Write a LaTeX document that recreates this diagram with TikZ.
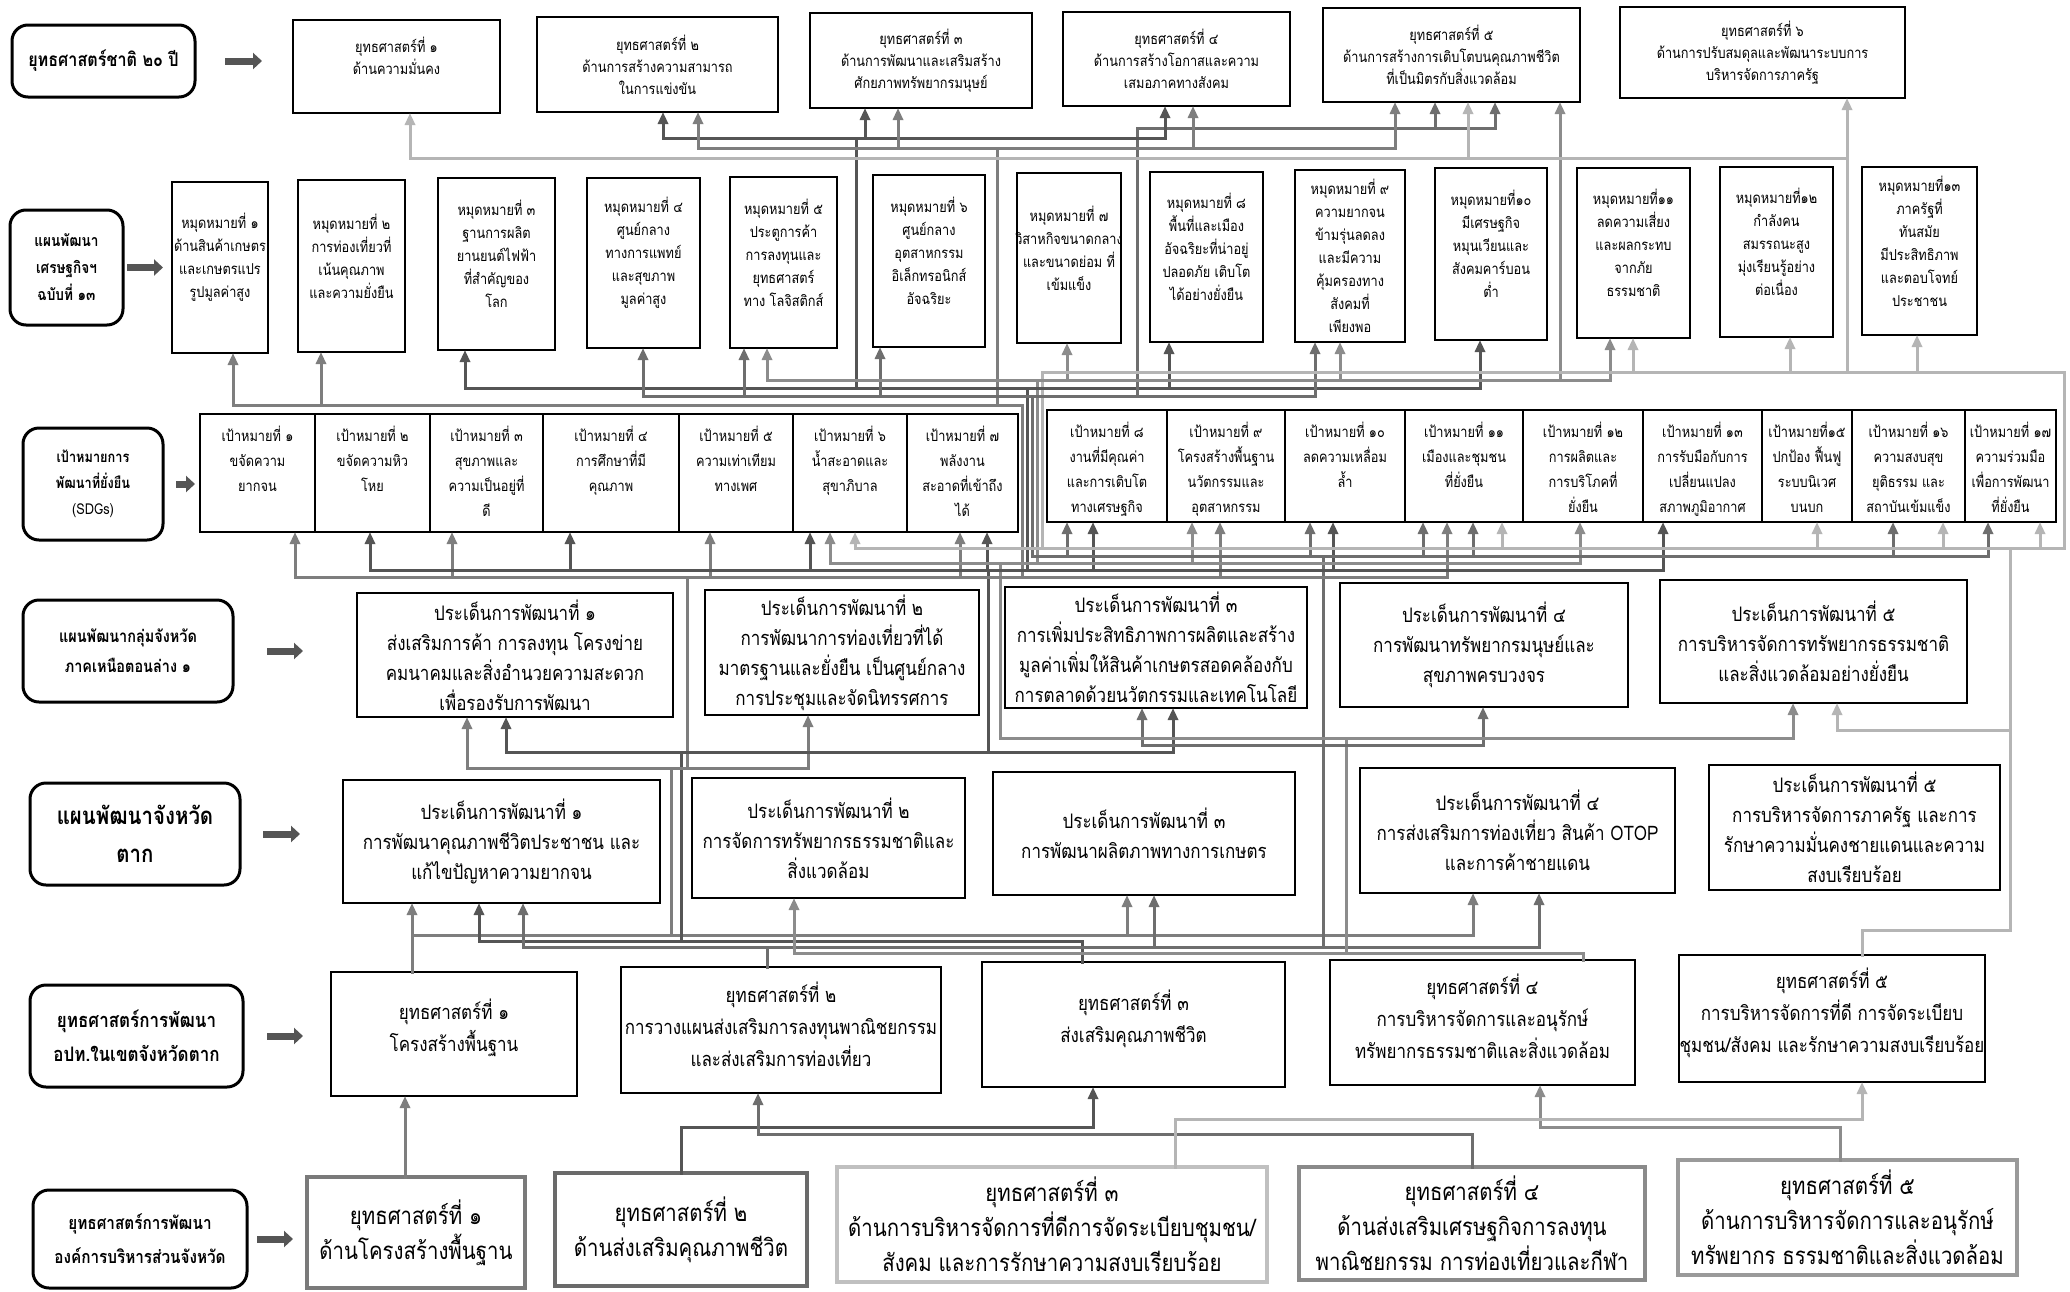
\documentclass[tikz,border=0pt]{standalone}
\usepackage{fontspec}
\setmainfont{Loma}[Script=Thai,FakeStretch=0.85]
\usetikzlibrary{arrows.meta}
\definecolor{cA}{HTML}{555555}
\definecolor{cB}{HTML}{6E6E6E}
\definecolor{cC}{HTML}{7E7E7E}
\definecolor{cD}{HTML}{8C8C8C}
\definecolor{cE}{HTML}{B5B5B5}
\definecolor{arrowgray}{HTML}{555555}
\definecolor{bA}{HTML}{7A7A7A}
\definecolor{bB}{HTML}{6A6A6A}
\definecolor{bC}{HTML}{C0C0C0}
\definecolor{bD}{HTML}{8A8A8A}
\definecolor{bE}{HTML}{9A9A9A}
\newcommand\tbox[9]{%
  \node[#1, minimum width={(#5-#3)*1pt}, minimum height={(#6-#4)*1pt}] (#2) at ({(#3+#5)/2},{(#4+#6)/2}) {};
  \node[#7] (#2t) at (#2.#8) {#9};}
\tikzset{
  box/.style={draw=black, line width=1.6pt, inner sep=0pt, outer sep=0pt},
  bbox/.style={draw=#1, line width=4pt, inner sep=0pt, outer sep=0pt},
  lab/.style={draw=black, line width=3pt, rounded corners=16pt, inner sep=0pt, outer sep=0pt},
  lt/.style n args={2}{align=center, inner sep=0pt, font=\bfseries\fontsize{#1}{#2}\selectfont},
  tx/.style n args={2}{align=center, inner sep=0pt, font=\fontsize{#1}{#2}\selectfont},
  t1/.style={tx={15}{22}},
  t2/.style={tx={15}{23}, yshift=10pt},
  t3/.style={tx={15}{25}, anchor=north, yshift=-12pt},
  t4/.style={tx={20}{30}},
  t6/.style={tx={20}{32}, yshift=6pt},
  t7/.style={tx={24}{35}},
  ln/.style={line width=3pt, line cap=rect, line join=miter},
  arr/.style={-{Triangle[length=12pt,width=10pt]}},
  bigarr/.style={draw=arrowgray, line width=7pt, -{Triangle[length=9pt,width=16pt]}}
}
\begin{document}
\begin{tikzpicture}[x=1pt,y=-1pt]
\fill[white] (0,0) rectangle (2070,1291);
\useasboundingbox (0,0) rectangle (2070,1291);

% ---------- labels ----------
\tbox{lab}{L1}{12}{25}{195}{97}{lt={19}{24}}{center}{ยุทธศาสตร์ชาติ ๒๐ ปี}
\tbox{lab}{L2}{10}{210}{123}{325}{lt={16}{27}}{center}{แผนพัฒนา\\เศรษฐกิจฯ\\ฉบับที่ ๑๓}
\tbox{lab}{L3}{23}{428}{163}{540}{lt={15}{26}}{center}{เป้าหมายการ\\พัฒนาที่ยั่งยืน\\{\mdseries (SDGs)}}
\tbox{lab}{L4}{23}{600}{233}{702}{lt={17}{30}}{center}{แผนพัฒนากลุ่มจังหวัด\\ภาคเหนือตอนล่าง ๑}
\tbox{lab}{L5}{30}{783}{240}{885}{lt={24}{38}}{center}{แผนพัฒนาจังหวัด\\ตาก}
\tbox{lab}{L6}{30}{985}{243}{1087}{lt={20}{34}}{center}{ยุทธศาสตร์การพัฒนา\\อปท.ในเขตจังหวัดตาก}
\tbox{lab}{L7}{33}{1190}{247}{1288}{lt={18}{34}}{center}{ยุทธศาสตร์การพัฒนา\\องค์การบริหารส่วนจังหวัด}

\draw[bigarr] (225,0 |- L1) -- (262,0 |- L1);
\draw[bigarr] (127,0 |- L2) -- (163,0 |- L2);
\draw[bigarr] (176,0 |- L3) -- (195,0 |- L3);
\draw[bigarr] (267,0 |- L4) -- (303,0 |- L4);
\draw[bigarr] (263,0 |- L5) -- (300,0 |- L5);
\draw[bigarr] (267,0 |- L6) -- (303,0 |- L6);
\draw[bigarr] (257,0 |- L7) -- (293,0 |- L7);

% ---------- row 1 ----------
\tbox{box}{S1}{293}{20}{500}{113}{t1}{center}{ยุทธศาสตร์ที่ ๑\\ด้านความมั่นคง\\\mbox{}}
\tbox{box}{S2}{537}{17}{778}{112}{t1}{center}{ยุทธศาสตร์ที่ ๒\\ด้านการสร้างความสามารถ\\ในการแข่งขัน}
\tbox{box}{S3}{810}{13}{1032}{108}{t1}{center}{ยุทธศาสตร์ที่ ๓\\ด้านการพัฒนาและเสริมสร้าง\\ศักยภาพทรัพยากรมนุษย์}
\tbox{box}{S4}{1063}{12}{1290}{106}{t1}{center}{ยุทธศาสตร์ที่ ๔\\ด้านการสร้างโอกาสและความ\\เสมอภาคทางสังคม}
\tbox{box}{S5}{1323}{8}{1580}{102}{t1}{center}{ยุทธศาสตร์ที่ ๕\\ด้านการสร้างการเติบโตบนคุณภาพชีวิต\\ที่เป็นมิตรกับสิ่งแวดล้อม}
\tbox{box}{S6}{1620}{7}{1905}{98}{t1}{center}{ยุทธศาสตร์ที่ ๖\\ด้านการปรับสมดุลและพัฒนาระบบการ\\บริหารจัดการภาครัฐ}

% ---------- row 2 ----------
\tbox{box}{G1}{172}{182}{268}{353}{t2}{center}{หมุดหมายที่ ๑\\ด้านสินค้าเกษตร\\และเกษตรแปร\\รูปมูลค่าสูง}
\tbox{box}{G2}{298}{180}{405}{352}{t2}{center}{หมุดหมายที่ ๒\\การท่องเที่ยวที่\\เน้นคุณภาพ\\และความยั่งยืน}
\tbox{box}{G3}{438}{178}{555}{350}{t2}{center}{หมุดหมายที่ ๓\\ฐานการผลิต\\ยานยนต์ไฟฟ้า\\ที่สำคัญของ\\โลก}
\tbox{box}{G4}{587}{178}{700}{348}{t2}{center}{หมุดหมายที่ ๔\\ศูนย์กลาง\\ทางการแพทย์\\และสุขภาพ\\มูลค่าสูง}
\tbox{box}{G5}{730}{177}{837}{348}{t2}{center}{หมุดหมายที่ ๕\\ประตูการค้า\\การลงทุนและ\\ยุทธศาสตร์\\ทาง โลจิสติกส์}
\tbox{box}{G6}{873}{175}{985}{347}{t2}{center}{หมุดหมายที่ ๖\\ศูนย์กลาง\\อุตสาหกรรม\\อิเล็กทรอนิกส์\\อัจฉริยะ}
\tbox{box}{G7}{1017}{173}{1121}{343}{t2}{center}{หมุดหมายที่ ๗\\วิสาหกิจขนาดกลาง\\และขนาดย่อม ที่\\เข้มแข็ง}
\tbox{box}{G8}{1150}{172}{1263}{342}{t2}{center}{หมุดหมายที่ ๘\\พื้นที่และเมือง\\อัจฉริยะที่น่าอยู่\\ปลอดภัย เติบโต\\ได้อย่างยั่งยืน}
\tbox{box}{G9}{1295}{170}{1405}{342}{tx={15}{23}}{center}{หมุดหมายที่ ๙\\ความยากจน\\ข้ามรุ่นลดลง\\และมีความ\\คุ้มครองทาง\\สังคมที่\\เพียงพอ}
\tbox{box}{G10}{1435}{168}{1547}{340}{t2}{center}{หมุดหมายที่๑๐\\มีเศรษฐกิจ\\หมุนเวียนและ\\สังคมคาร์บอน\\ต่ำ}
\tbox{box}{G11}{1577}{168}{1690}{338}{t2}{center}{หมุดหมายที่๑๑\\ลดความเสี่ยง\\และผลกระทบ\\จากภัย\\ธรรมชาติ}
\tbox{box}{G12}{1720}{167}{1833}{337}{t2}{center}{หมุดหมายที่๑๒\\กำลังคน\\สมรรถนะสูง\\มุ่งเรียนรู้อย่าง\\ต่อเนื่อง}
\tbox{box}{G13}{1862}{167}{1977}{335}{t2}{center}{หมุดหมายที่๑๓\\ภาครัฐที่\\ทันสมัย\\มีประสิทธิภาพ\\และตอบโจทย์\\ประชาชน}

% ---------- row 3 (SDGs) ----------
\tbox{box}{D1}{200}{414}{315}{532}{t3}{north}{เป้าหมายที่ ๑\\ขจัดความ\\ยากจน}
\tbox{box}{D2}{315}{414}{430}{532}{t3}{north}{เป้าหมายที่ ๒\\ขจัดความหิว\\โหย}
\tbox{box}{D3}{430}{414}{543}{532}{t3}{north}{เป้าหมายที่ ๓\\สุขภาพและ\\ความเป็นอยู่ที่\\ดี}
\tbox{box}{D4}{543}{414}{679}{532}{t3}{north}{เป้าหมายที่ ๔\\การศึกษาที่มี\\คุณภาพ}
\tbox{box}{D5}{679}{414}{793}{532}{t3}{north}{เป้าหมายที่ ๕\\ความเท่าเทียม\\ทางเพศ}
\tbox{box}{D6}{793}{414}{907}{532}{t3}{north}{เป้าหมายที่ ๖\\น้ำสะอาดและ\\สุขาภิบาล}
\tbox{box}{D7}{907}{414}{1018}{532}{t3}{north}{เป้าหมายที่ ๗\\พลังงาน\\สะอาดที่เข้าถึง\\ได้}
\tbox{box}{D8}{1047}{410}{1167}{522}{t3}{north}{เป้าหมายที่ ๘\\งานที่มีคุณค่า\\และการเติบโต\\ทางเศรษฐกิจ}
\tbox{box}{D9}{1167}{410}{1285}{522}{t3}{north}{เป้าหมายที่ ๙\\โครงสร้างพื้นฐาน\\นวัตกรรมและ\\อุตสาหกรรม}
\tbox{box}{D10}{1285}{410}{1405}{522}{t3}{north}{เป้าหมายที่ ๑๐\\ลดความเหลื่อม\\ล้ำ}
\tbox{box}{D11}{1405}{410}{1523}{522}{t3}{north}{เป้าหมายที่ ๑๑\\เมืองและชุมชน\\ที่ยั่งยืน}
\tbox{box}{D12}{1523}{410}{1643}{522}{t3}{north}{เป้าหมายที่ ๑๒\\การผลิตและ\\การบริโภคที่\\ยั่งยืน}
\tbox{box}{D13}{1643}{410}{1762}{522}{t3}{north}{เป้าหมายที่ ๑๓\\การรับมือกับการ\\เปลี่ยนแปลง\\สภาพภูมิอากาศ}
\tbox{box}{D15}{1762}{410}{1852}{522}{t3}{north}{เป้าหมายที่๑๕\\ปกป้อง ฟื้นฟู\\ระบบนิเวศ\\บนบก}
\tbox{box}{D16}{1852}{410}{1965}{522}{t3}{north}{เป้าหมายที่ ๑๖\\ความสงบสุข\\ยุติธรรม และ\\สถาบันเข้มแข็ง}
\tbox{box}{D17}{1965}{410}{2056}{522}{t3}{north}{เป้าหมายที่ ๑๗\\ความร่วมมือ\\เพื่อการพัฒนา\\ที่ยั่งยืน}

% ---------- row 4 ----------
\tbox{box}{P1}{357}{593}{673}{717}{t4}{center}{ประเด็นการพัฒนาที่ ๑\\ส่งเสริมการค้า การลงทุน โครงข่าย\\คมนาคมและสิ่งอำนวยความสะดวก\\เพื่อรองรับการพัฒนา}
\tbox{box}{P2}{705}{590}{979}{715}{t4}{center}{ประเด็นการพัฒนาที่ ๒\\การพัฒนาการท่องเที่ยวที่ได้\\มาตรฐานและยั่งยืน เป็นศูนย์กลาง\\การประชุมและจัดนิทรรศการ}
\tbox{box}{P3}{1005}{587}{1307}{708}{t4}{center}{ประเด็นการพัฒนาที่ ๓\\การเพิ่มประสิทธิภาพการผลิตและสร้าง\\มูลค่าเพิ่มให้สินค้าเกษตรสอดคล้องกับ\\การตลาดด้วยนวัตกรรมและเทคโนโลยี}
\tbox{box}{P4}{1340}{583}{1628}{707}{t4}{center}{ประเด็นการพัฒนาที่ ๔\\การพัฒนาทรัพยากรมนุษย์และ\\สุขภาพครบวงจร}
\tbox{box}{P5}{1660}{580}{1967}{703}{t4}{center}{ประเด็นการพัฒนาที่ ๕\\การบริหารจัดการทรัพยากรธรรมชาติ\\และสิ่งแวดล้อมอย่างยั่งยืน}

% ---------- row 5 ----------
\tbox{box}{T1}{343}{780}{660}{903}{t4}{center}{ประเด็นการพัฒนาที่ ๑\\การพัฒนาคุณภาพชีวิตประชาชน และ\\แก้ไขปัญหาความยากจน}
\tbox{box}{T2}{692}{778}{965}{898}{t4}{center}{ประเด็นการพัฒนาที่ ๒\\การจัดการทรัพยากรธรรมชาติและ\\สิ่งแวดล้อม}
\tbox{box}{T3}{993}{772}{1295}{895}{t4}{center}{ประเด็นการพัฒนาที่ ๓\\การพัฒนาผลิตภาพทางการเกษตร}
\tbox{box}{T4}{1360}{768}{1675}{893}{t4}{center}{ประเด็นการพัฒนาที่ ๔\\การส่งเสริมการท่องเที่ยว สินค้า OTOP\\และการค้าชายแดน}
\tbox{box}{T5}{1709}{765}{2000}{890}{t4}{center}{ประเด็นการพัฒนาที่ ๕\\การบริหารจัดการภาครัฐ และการ\\รักษาความมั่นคงชายแดนและความ\\สงบเรียบร้อย}

% ---------- row 6 ----------
\tbox{box}{A1}{331}{972}{577}{1096}{t6}{center}{ยุทธศาสตร์ที่ ๑\\โครงสร้างพื้นฐาน}
\tbox{box}{A2}{621}{967}{941}{1093}{t6}{center}{ยุทธศาสตร์ที่ ๒\\การวางแผนส่งเสริมการลงทุนพาณิชยกรรม\\และส่งเสริมการท่องเที่ยว}
\tbox{box}{A3}{982}{962}{1285}{1087}{t6}{center}{ยุทธศาสตร์ที่ ๓\\ส่งเสริมคุณภาพชีวิต}
\tbox{box}{A4}{1330}{960}{1635}{1085}{t6}{center}{ยุทธศาสตร์ที่ ๔\\การบริหารจัดการและอนุรักษ์\\ทรัพยากรธรรมชาติและสิ่งแวดล้อม}
\tbox{box}{A5}{1679}{955}{1985}{1082}{t6}{center}{ยุทธศาสตร์ที่ ๕\\การบริหารจัดการที่ดี การจัดระเบียบ\\ชุมชน/สังคม และรักษาความสงบเรียบร้อย}

% ---------- row 7 ----------
\tbox{bbox=bA}{B1}{307}{1177}{525}{1288}{t7}{center}{ยุทธศาสตร์ที่ ๑\\ด้านโครงสร้างพื้นฐาน}
\tbox{bbox=bB}{B2}{555}{1173}{807}{1286}{t7}{center}{ยุทธศาสตร์ที่ ๒\\ด้านส่งเสริมคุณภาพชีวิต}
\tbox{bbox=bC}{B3}{837}{1167}{1267}{1282}{t7}{center}{ยุทธศาสตร์ที่ ๓\\ด้านการบริหารจัดการที่ดีการจัดระเบียบชุมชน/\\สังคม และการรักษาความสงบเรียบร้อย}
\tbox{bbox=bD}{B4}{1299}{1167}{1645}{1280}{t7}{center}{ยุทธศาสตร์ที่ ๔\\ด้านส่งเสริมเศรษฐกิจการลงทุน\\พาณิชยกรรม การท่องเที่ยวและกีฬา}
\tbox{bbox=bE}{B5}{1678}{1160}{2017}{1275}{t7}{center}{ยุทธศาสตร์ที่ ๕\\ด้านการบริหารจัดการและอนุรักษ์\\ทรัพยากร ธรรมชาติและสิ่งแวดล้อม}

% ================= connectors =================
% row 7 -> row 6
\draw[ln,cC,arr] (405,0 |- B1.north) -- (405,0 |- A1.south);
\draw[ln,cA,arr] (681,0 |- B2.north) |- (1093,1127) -- (1093,0 |- A3.south);
\draw[ln,cB,arr] (1472,0 |- B4.north) |- (758,1134) -- (758,0 |- A2.south);
\draw[ln,cD,arr] (1840,0 |- B5.north) |- (1540,1127) -- (1540,0 |- A4.south);
\draw[ln,cE,arr] (1175,0 |- B3.north) |- (1862,1119) -- (1862,0 |- A5.south);

% row 6 -> row 5
\draw[ln,cC,arr] (412,0 |- A1.north) -- (412,0 |- T1.south);
\draw[ln,cC] (412,935) -- (1473,935);
\foreach \x/\n in {1127/T3,1473/T4} \draw[ln,cC,arr] (\x,935) -- (\x,0 |- \n.south);
\draw[ln,cC] (671,935) -- (671,768);

\draw[ln,cA] (1082,0 |- A3.north) |- (479,941);
\draw[ln,cA,arr] (479,941) -- (479,0 |- T1.south);
\draw[ln,cA] (681,941) -- (681,752);

\draw[ln,cB] (767,0 |- A2.north) -- (767,947);
\draw[ln,cB] (523,947) -- (1539,947);
\foreach \x/\n in {523/T1,1154/T3,1539/T4} \draw[ln,cB,arr] (\x,947) -- (\x,0 |- \n.south);
\draw[ln,cB] (1323,947) -- (1323,556);

\draw[ln,cD] (1583,0 |- A4.north) |- (794,953);
\draw[ln,cD,arr] (794,953) -- (794,0 |- T2.south);
\draw[ln,cD] (1346,953) -- (1346,738);

\draw[ln,cE] (1862,0 |- A5.north) |- (2010,930) -- (2010,548);

% row 5 -> row 4
\draw[ln,cC] (467,768) -- (808,768);
\foreach \x/\n in {467/P1,808/P2} \draw[ln,cC,arr] (\x,768) -- (\x,0 |- \n.south);
\draw[ln,cC] (687,768) -- (687,577);

\draw[ln,cA] (506,752) -- (1173,752);
\foreach \x/\n in {506/P1,1173/P3} \draw[ln,cA,arr] (\x,752) -- (\x,0 |- \n.south);
\draw[ln,cA] (988,752) -- (988,570);

\draw[ln,cB] (1142,745) -- (1483,745);
\foreach \x/\n in {1142/P3,1483/P4} \draw[ln,cB,arr] (\x,745) -- (\x,0 |- \n.south);

\draw[ln,cD] (1000,738) -- (1793,738);
\draw[ln,cD,arr] (1793,738) -- (1793,0 |- P5.south);
\draw[ln,cD] (1000,738) -- (1000,563);

\draw[ln,cE] (1837,730) -- (2010,730);
\draw[ln,cE,arr] (1837,730) -- (1837,0 |- P5.south);

% row 4 -> row 3
\draw[ln,cC] (295,577) -- (1447,577);
\foreach \x/\n in {295/D1,452/D3,710/D5,960/D7,1220/D9,1447/D11} \draw[ln,cC,arr] (\x,577) -- (\x,0 |- \n.south);
\draw[ln,cC] (1022,577) -- (1022,405);

\draw[ln,cA] (370,570) -- (1663,570);
\foreach \x/\n in {370/D2,570/D4,810/D6,987/D7,1093/D8,1333/D10,1663/D13} \draw[ln,cA,arr] (\x,570) -- (\x,0 |- \n.south);
\draw[ln,cA] (1027,570) -- (1027,388);

\draw[ln,cD] (830,563) -- (1580,563);
\foreach \x/\n in {830/D6,1192/D9,1580/D12} \draw[ln,cD,arr] (\x,563) -- (\x,0 |- \n.south);
\draw[ln,cD] (1037,563) -- (1037,380);

\draw[ln,cB] (1032,556) -- (1988,556);
\foreach \x/\n in {1067/D8,1310/D10,1423/D11,1473/D11,1893/D16,1988/D17} \draw[ln,cB,arr] (\x,556) -- (\x,0 |- \n.south);
\draw[ln,cB] (1032,556) -- (1032,396);

\draw[ln,cE] (855,548) -- (2064,548);
\foreach \x/\n in {855/D6,1502/D11,1817/D15,1943/D16,2040/D17} \draw[ln,cE,arr] (\x,548) -- (\x,0 |- \n.south);
\draw[ln,cE] (1042,548) -- (1042,372);
\draw[ln,cE] (2064,548) -- (2064,372);

% row 3 -> row 2
\draw[ln,cC] (233,405) -- (1022,405);
\foreach \x/\n in {233/G1,321/G2} \draw[ln,cC,arr] (\x,405) -- (\x,0 |- \n.south);
\draw[ln,cC] (997,405) -- (997,148);

\draw[ln,cA] (465,388) -- (1480,388);
\foreach \x/\n in {465/G3,1169/G8,1480/G10} \draw[ln,cA,arr] (\x,388) -- (\x,0 |- \n.south);
\draw[ln,cA] (856,388) -- (856,138);

\draw[ln,cB] (643,396) -- (1315,396);
\foreach \x/\n in {643/G4,744/G5,880/G6,1315/G9} \draw[ln,cB,arr] (\x,396) -- (\x,0 |- \n.south);
\draw[ln,cB] (1137,396) -- (1137,128);

\draw[ln,cD] (767,380) -- (1610,380);
\foreach \x/\n in {767/G5,1067/G7,1340/G9,1610/G11} \draw[ln,cD,arr] (\x,380) -- (\x,0 |- \n.south);
\draw[ln,cD,arr] (1560,380) -- (1560,0 |- S5.south);

\draw[ln,cE] (1042,372) -- (2064,372);
\foreach \x/\n in {1633/G11,1790/G12,1917/G13} \draw[ln,cE,arr] (\x,372) -- (\x,0 |- \n.south);
\draw[ln,cE,arr] (1847,372) -- (1847,0 |- S6.south);

% row 2 -> row 1
\draw[ln,cB] (1137,128) -- (1495,128);
\foreach \x/\n in {1435/S5,1495/S5} \draw[ln,cB,arr] (\x,128) -- (\x,0 |- \n.south);

\draw[ln,cA] (663,138) -- (1165,138);
\foreach \x/\n in {663/S2,865/S3,1165/S4} \draw[ln,cA,arr] (\x,138) -- (\x,0 |- \n.south);

\draw[ln,cC] (698,148) -- (1395,148);
\foreach \x/\n in {698/S2,898/S3,1193/S4,1395/S5} \draw[ln,cC,arr] (\x,148) -- (\x,0 |- \n.south);

\draw[ln,cE] (410,158) -- (1847,158);
\foreach \x/\n in {410/S1,1468/S5} \draw[ln,cE,arr] (\x,158) -- (\x,0 |- \n.south);
\end{tikzpicture}
\end{document}
